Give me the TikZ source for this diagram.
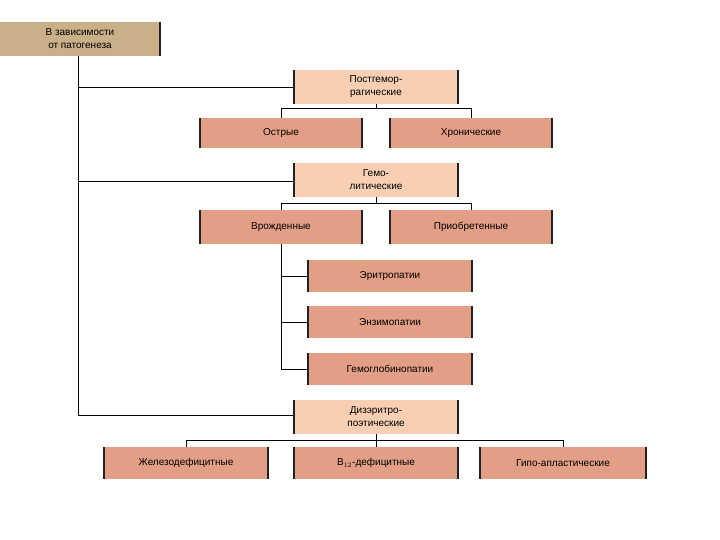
\documentclass[tikz,border=0pt]{standalone}
\usepackage{fontspec}
\setmainfont{Liberation Sans}
\definecolor{tan}{HTML}{C9B089}
\definecolor{peach}{HTML}{F9CFB3}
\definecolor{salmon}{HTML}{E39E86}
\definecolor{bar}{HTML}{222222}
\tikzset{
  box/.style={minimum width=#1, inner sep=1pt, align=center, font=\fontsize{10}{12}\selectfont},
  lnk/.style={line width=0.8pt, black},
  barl/.style={line width=2pt, bar}
}
\newcommand{\mybox}[7]{% name, x1,y1,x2,y2, color, text
  \fill[#6] (#2,#3) rectangle (#4,#5);
  \draw[barl] (#2,#3) -- (#2,#5);
  \draw[barl] (#4,#3) -- (#4,#5);
  \node[align=center, font=\fontsize{10}{13}\selectfont] (#1) at ({(#2+#4)/2},{(#3+#5)/2}) {#7};
  \coordinate (#1-t) at ({(#2+#4)/2},#3);
  \coordinate (#1-b) at ({(#2+#4)/2},#5);
  \coordinate (#1-l) at (#2,{(#3+#5)/2});
}
\begin{document}
\begin{tikzpicture}[x=1pt,y=-1pt]
\useasboundingbox (0,0) rectangle (720,540);
% lines
\coordinate (v0) at (78,56);
\coordinate (v1) at (78,415);
\draw[lnk] (v0) -- (v1) -- (294,415);
\draw[lnk] (78,87) -- (294,87);
\draw[lnk] (78,181) -- (294,181);
\draw[lnk] (376,104) -- (376,108);
\draw[lnk] (281,118) -- (281,108) -- (471,108) -- (471,118);
\draw[lnk] (376,197) -- (376,203);
\draw[lnk] (281,210) -- (281,203) -- (471,203) -- (471,210);
\draw[lnk] (281,244) -- (281,369) -- (308,369);
\draw[lnk] (281,276) -- (308,276);
\draw[lnk] (281,322) -- (308,322);
\draw[lnk] (376,434) -- (376,440);
\draw[lnk] (186,447) -- (186,440) -- (563,440) -- (563,447);
\draw[lnk] (376,440) -- (376,447);
% boxes
\fill[tan] (0,22) rectangle (160,56);
\draw[barl] (160,22) -- (160,56);
\node[align=center, font=\fontsize{10}{13}\selectfont] (top) at (80,39) {В зависимости\\от патогенеза};
\mybox{pg}{294}{70}{458}{104}{peach}{Постгемор-\\рагические}
\mybox{os}{200}{118}{362}{148}{salmon}{Острые}
\mybox{hr}{390}{118}{552}{148}{salmon}{Хронические}
\mybox{gm}{294}{163}{458}{197}{peach}{Гемо-\\литические}
\mybox{vr}{200}{210}{362}{244}{salmon}{Врожденные}
\mybox{pr}{390}{210}{552}{244}{salmon}{Приобретенные}
\mybox{er}{308}{260}{472}{292}{salmon}{Эритропатии}
\mybox{en}{308}{306}{472}{338}{salmon}{Энзимопатии}
\mybox{gl}{308}{353}{472}{385}{salmon}{Гемоглобинопатии}
\mybox{dz}{294}{400}{458}{434}{peach}{Дизэритро-\\поэтические}
\mybox{zh}{104}{447}{268}{479}{salmon}{Железодефицитные}
\mybox{b12}{294}{447}{458}{479}{salmon}{B$_{12}$-дефицитные}
\mybox{gp}{480}{447}{646}{479}{salmon}{Гипо-апластические}
\end{tikzpicture}
\end{document}
